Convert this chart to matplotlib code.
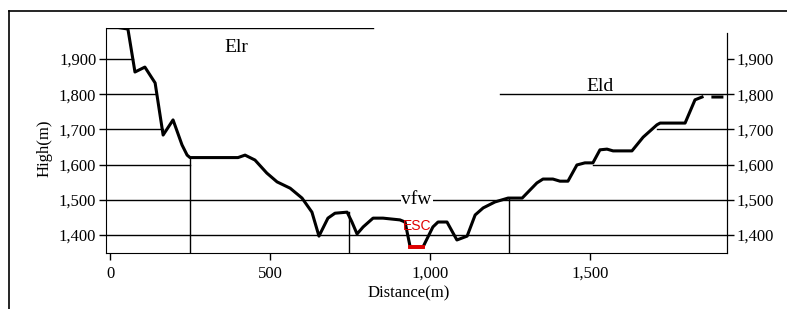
import numpy as np
import matplotlib
matplotlib.use("Agg")
import matplotlib.pyplot as plt

# profil: mesafe (m) ve yukseklik (m)
dist = [16, 56, 78, 109, 131, 141, 166, 197, 225, 241, 250, 300, 400, 422, 453,
        490, 522, 563, 600, 631, 653, 681, 703, 741, 756, 772, 791, 822, 853,
        906, 922, 938, 978, 1009, 1025, 1053, 1084, 1116, 1141, 1166, 1203,
        1244, 1288, 1334, 1353, 1384, 1406, 1431, 1459, 1484, 1509, 1531, 1553,
        1572, 1631, 1666, 1709, 1719, 1797, 1828, 1850, np.nan, 1884, 1912]
elev = [1991, 1985, 1863, 1877, 1846, 1832, 1684, 1727, 1656, 1627, 1620, 1620,
        1620, 1627, 1613, 1576, 1551, 1533, 1505, 1465, 1397, 1448, 1462, 1465,
        1437, 1403, 1423, 1448, 1448, 1443, 1437, 1366, 1366, 1423, 1437, 1437,
        1386, 1397, 1457, 1477, 1494, 1505, 1505, 1548, 1559, 1559, 1553, 1553,
        1599, 1605, 1605, 1642, 1644, 1639, 1639, 1678, 1713, 1718, 1718, 1784,
        1792, np.nan, 1792, 1792]

esc_dist = [938, 978]
esc_elev = [1366, 1366]

y_ticks = [1400, 1500, 1600, 1700, 1800, 1900]
x_ticks = [0, 500, 1000, 1500]

# yatay cizgiler: (yukseklik, baslangic, bitis)
h_lines = [(1900, -12.5, 72), (1800, -12.5, 141), (1700, -12.5, 166),
           (1600, -12.5, 250), (1500, -12.5, 1928), (1400, -12.5, 1928),
           (1600, 1509, 1928), (1700, 1709, 1928), (1800, 1219, 1928),
           (1988, -12.5, 822)]
# dikey cizgiler: (mesafe, ust yukseklik)
v_lines = [(250, 1620), (747, 1465), (1247, 1505)]

XMIN, XMAX = -12.5, 1928
YMIN, YMAX = 1349, 1988

plt.rcParams["font.family"] = ["Liberation Serif", "DejaVu Serif"]

fig = plt.figure(figsize=(7.87, 3.09), dpi=100)
ax = fig.add_axes([106 / 787, (309 - 253) / 309, 621 / 787, 225 / 309])

for y, x0, x1 in h_lines:
    ax.plot([x0, x1], [y, y], color="black", lw=1.0, zorder=1)
for x, ytop in v_lines:
    ax.plot([x, x], [YMIN, ytop], color="black", lw=1.0, zorder=1)

ax.plot(dist, elev, color="black", lw=2.2, zorder=3)
ax.plot(esc_dist, esc_elev, color="#e00000", lw=2.8, zorder=4)

ax.text(394, 1934, "Elr", fontsize=14, ha="center", va="center")
ax.text(1530, 1822, "Eld", fontsize=14, ha="center", va="center")
ax.text(958, 1502, "vfw", fontsize=14, ha="center", va="center", zorder=2,
        bbox=dict(facecolor="white", edgecolor="none", pad=0.5))
ax.text(960, 1426, "ESC", fontsize=10, color="#e00000", ha="center",
        va="center", family=["Liberation Sans", "DejaVu Sans"], zorder=5)

ax.set_xlim(XMIN, XMAX)
ax.set_ylim(YMIN, YMAX)
ax.set_xticks(x_ticks)
ax.set_xticklabels([f"{v:,}" for v in x_ticks])
ax.set_yticks(y_ticks)
ax.set_yticklabels([f"{v:,}" for v in y_ticks])
ax.tick_params(axis="both", direction="out", length=5, width=1, labelsize=12)
ax.tick_params(axis="x", pad=4)
ax.tick_params(axis="y", pad=2)
ax.spines["top"].set_visible(False)
ax.spines["right"].set_bounds(YMIN, 1974)

ax2 = ax.twinx()
ax2.set_ylim(YMIN, YMAX)
ax2.set_yticks(y_ticks)
ax2.set_yticklabels([f"{v:,}" for v in y_ticks])
ax2.tick_params(axis="y", direction="out", length=5, width=1, labelsize=12,
                pad=2)
for s in ["top", "left", "bottom"]:
    ax2.spines[s].set_visible(False)
ax2.spines["right"].set_bounds(YMIN, 1974)

fig.text(409 / 787, 1 - 293 / 309, "Distance(m)", fontsize=12,
         ha="center", va="center")
fig.text(45 / 787, 1 - 148 / 309, "High(m)", fontsize=12, rotation=90,
         ha="center", va="center")

# dis cerceve
fig.add_artist(plt.Line2D([9 / 787, 1], [1 - 11 / 309, 1 - 11 / 309],
                          color="black", lw=1.2, transform=fig.transFigure))
fig.add_artist(plt.Line2D([9 / 787, 9 / 787], [0, 1 - 11 / 309],
                          color="black", lw=1.2, transform=fig.transFigure))

fig.savefig("out.png", dpi=100)
